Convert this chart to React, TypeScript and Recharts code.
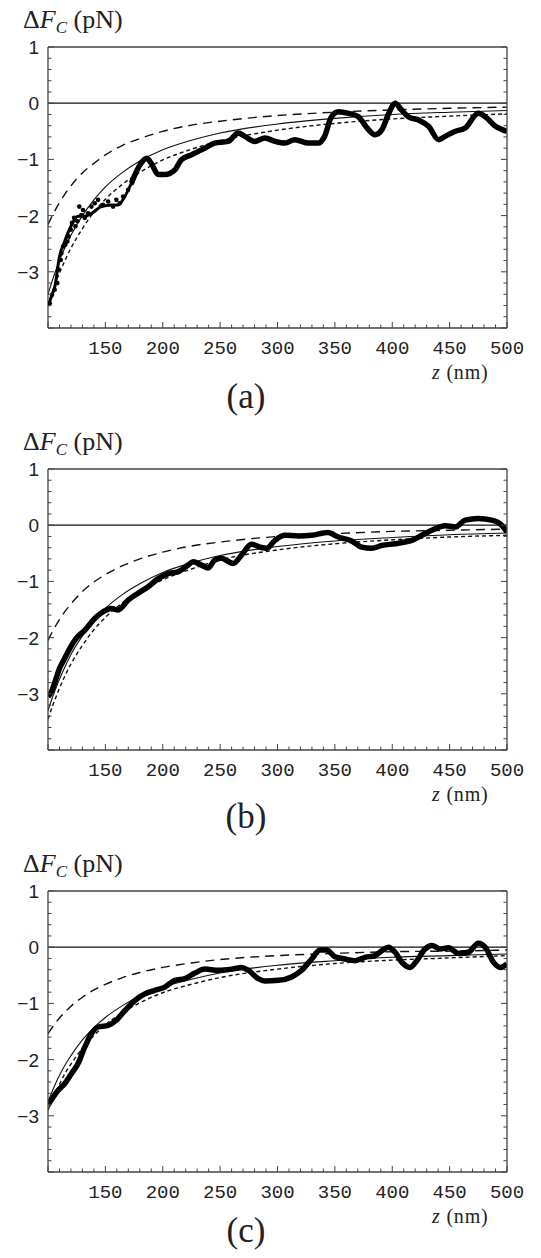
import React from "react";
import { ComposedChart, Line, Scatter, XAxis, YAxis, ReferenceLine } from "recharts";

// z (nm) sample points used for the three theory curves
const Z_THEORY = [100, 105, 110, 115, 120, 130, 140, 150, 165, 180, 200, 225, 250, 300, 350, 400, 450, 500];

// panel (a)
const A_SOLID = [-3.4, -3.08, -2.8, -2.56, -2.35, -2.0, -1.72, -1.49, -1.23, -1.03, -0.83, -0.66, -0.53, -0.37, -0.27, -0.2, -0.16, -0.13];
const A_SHORT = [-3.6, -3.29, -3.02, -2.79, -2.58, -2.23, -1.94, -1.71, -1.44, -1.23, -1.01, -0.82, -0.67, -0.48, -0.36, -0.28, -0.23, -0.19];
const A_LONG = [-2.16, -1.95, -1.77, -1.61, -1.47, -1.24, -1.07, -0.92, -0.75, -0.63, -0.5, -0.39, -0.32, -0.22, -0.16, -0.12, -0.09, -0.07];
const A_EARLY_Z = [100, 103, 106, 110, 114.5, 120, 126, 132, 138, 146.5, 155, 161, 167, 172.7];
const A_EARLY_V = [-3.61, -3.44, -3.26, -2.73, -2.46, -2.19, -2.01, -2.01, -1.96, -1.84, -1.81, -1.81, -1.66, -1.42];
const A_EXP_Z = [172.7, 181, 186, 190, 196, 202, 210.5, 216, 225, 236.7, 245, 257, 265.8, 271.6, 280, 289, 298, 306.5, 315, 327, 335.6, 341, 347, 353, 362, 370.5, 378, 385, 391, 397, 402.5, 408, 414, 423, 431.6, 440.5, 446, 455, 463.6, 475, 481, 490, 500];
const A_EXP_V = [-1.42, -1.07, -0.98, -1.07, -1.27, -1.27, -1.19, -1.01, -0.92, -0.8, -0.71, -0.68, -0.53, -0.59, -0.68, -0.62, -0.68, -0.71, -0.65, -0.71, -0.71, -0.59, -0.24, -0.15, -0.18, -0.24, -0.44, -0.56, -0.47, -0.18, 0.0, -0.12, -0.24, -0.3, -0.41, -0.65, -0.59, -0.5, -0.44, -0.18, -0.24, -0.41, -0.5];
const A_DOT_Z = [101.5, 103.5, 105.8, 108.1, 109.3, 111.1, 111.6, 113.1, 115.1, 116.9, 118, 119.8, 120.9, 122.7, 123.9, 125.6, 127.3, 129.1, 130.5, 132, 134.9, 137.8, 140.7, 143.6, 148, 152.4, 156.7, 159.6, 162.5, 165.4, 169.8, 173.3];
const A_DOT_V = [-3.56, -3.41, -3.32, -3.2, -2.96, -2.79, -2.67, -2.55, -2.52, -2.46, -2.37, -2.25, -2.13, -2.04, -2.19, -2.1, -1.84, -1.99, -1.9, -2.04, -1.96, -1.84, -1.78, -1.72, -1.81, -1.75, -1.84, -1.72, -1.78, -1.66, -1.54, -1.42];

// panel (b)
const B_SOLID = [-3.3, -3.0, -2.74, -2.51, -2.3, -1.97, -1.7, -1.48, -1.23, -1.04, -0.84, -0.67, -0.54, -0.38, -0.28, -0.22, -0.17, -0.14];
const B_SHORT = [-3.45, -3.16, -2.9, -2.67, -2.47, -2.14, -1.86, -1.64, -1.38, -1.18, -0.97, -0.78, -0.62, -0.44, -0.33, -0.26, -0.21, -0.18];
const B_LONG = [-2.05, -1.85, -1.68, -1.53, -1.4, -1.18, -1.01, -0.88, -0.72, -0.6, -0.48, -0.37, -0.3, -0.2, -0.15, -0.11, -0.09, -0.07];
const B_EXP_Z = [100, 103, 107, 110, 114.5, 119, 124.7, 132, 140.7, 148, 155, 161, 170, 178.5, 187, 196, 204.7, 213, 222, 226.5, 233.8, 239.6, 245.4, 251, 261.4, 268.7, 277.4, 284.7, 290.5, 297.8, 306.5, 318, 329.8, 344, 353, 364.7, 373.4, 382, 391, 402.5, 411, 417, 425.8, 434.5, 446, 455, 463.6, 475, 486.7, 495.4, 500];
const B_EXP_V = [-3.05, -2.96, -2.73, -2.55, -2.37, -2.19, -2.01, -1.87, -1.66, -1.54, -1.48, -1.51, -1.33, -1.21, -1.1, -0.95, -0.86, -0.83, -0.71, -0.65, -0.71, -0.76, -0.62, -0.59, -0.68, -0.53, -0.34, -0.39, -0.41, -0.27, -0.18, -0.19, -0.18, -0.13, -0.21, -0.28, -0.39, -0.41, -0.36, -0.33, -0.3, -0.27, -0.18, -0.09, -0.01, -0.03, 0.09, 0.12, 0.09, 0.0, -0.12];

// panel (c)
const C_SOLID = [-2.75, -2.5, -2.28, -2.09, -1.93, -1.65, -1.43, -1.25, -1.04, -0.87, -0.71, -0.57, -0.46, -0.32, -0.24, -0.18, -0.15, -0.12];
const C_SHORT = [-2.9, -2.65, -2.44, -2.24, -2.08, -1.8, -1.57, -1.38, -1.16, -0.99, -0.81, -0.66, -0.54, -0.39, -0.29, -0.23, -0.19, -0.15];
const C_LONG = [-1.54, -1.39, -1.26, -1.15, -1.05, -0.89, -0.76, -0.66, -0.54, -0.45, -0.36, -0.28, -0.22, -0.15, -0.11, -0.08, -0.07, -0.05];
const C_EXP_Z = [100, 104.4, 108.7, 114.5, 120.4, 126.2, 132, 137.8, 143.6, 152.4, 159.6, 166.9, 175.6, 184.4, 193, 201.8, 210.5, 219.3, 228, 236.7, 248.3, 260, 268.7, 274.5, 283.2, 289, 300.7, 312.3, 321, 329.8, 337, 342.9, 350, 358.9, 367.6, 376.3, 385, 391, 396.7, 402.5, 408.4, 415.6, 421.4, 428.7, 434.5, 441.8, 449, 457.7, 466.4, 475, 481, 488.3, 494, 500];
const C_EXP_V = [-2.81, -2.67, -2.55, -2.43, -2.25, -2.07, -1.78, -1.54, -1.42, -1.39, -1.3, -1.13, -0.95, -0.83, -0.77, -0.71, -0.59, -0.56, -0.46, -0.39, -0.41, -0.39, -0.36, -0.41, -0.56, -0.6, -0.59, -0.53, -0.41, -0.21, -0.05, -0.05, -0.17, -0.21, -0.24, -0.18, -0.15, -0.06, 0.0, -0.09, -0.27, -0.36, -0.24, -0.03, 0.03, -0.03, -0.01, -0.11, -0.09, 0.07, 0.0, -0.27, -0.36, -0.3];

// ticks (every minor tick; labels only on the majors)
const X_TICKS = [100, 110, 120, 130, 140, 150, 160, 170, 180, 190, 200, 210, 220, 230, 240, 250, 260, 270, 280, 290, 300, 310, 320, 330, 340, 350, 360, 370, 380, 390, 400, 410, 420, 430, 440, 450, 460, 470, 480, 490, 500];
const X_LABELS = [150, 200, 250, 300, 350, 400, 450, 500];
const Y_TICKS = [-4, -3.8, -3.6, -3.4, -3.2, -3, -2.8, -2.6, -2.4, -2.2, -2, -1.8, -1.6, -1.4, -1.2, -1, -0.8, -0.6, -0.4, -0.2, 0, 0.2, 0.4, 0.6, 0.8, 1];
const Y_LABELS = [-3, -2, -1, 0, 1];

const W = 541;
const H = 422;
const FRAME = "#444";
const INK = "#111";

const pts = (zs: number[], vs: number[]) => zs.map((z, i) => ({ z, v: vs[i] }));
const fmtY = (v: number) => (v < 0 ? `\u2212${-v}` : `${v}`);
const isMajorX = (v: number) => v % 50 === 0;
const isMajorY = (v: number) => Math.abs(v - Math.round(v)) < 1e-6;

function BottomTick(props: any) {
  const { x, y, payload } = props;
  const v = payload.value;
  const len = isMajorX(v) ? 6 : 3.5;
  return (
    <g>
      <line x1={x} x2={x} y1={y} y2={y - len} stroke={FRAME} strokeWidth={1} />
      {X_LABELS.includes(v) && (
        <text x={x} y={y + 26} textAnchor="middle" fontFamily="Liberation Mono" fontSize={19} fill="#222">
          {v}
        </text>
      )}
    </g>
  );
}

function TopTick(props: any) {
  const { x, y, payload } = props;
  const len = isMajorX(payload.value) ? 6 : 3.5;
  return <line x1={x} x2={x} y1={y} y2={y + len} stroke={FRAME} strokeWidth={1} />;
}

function LeftTick(props: any) {
  const { x, y, payload } = props;
  const v = payload.value;
  const len = isMajorY(v) ? 6 : 3.5;
  return (
    <g>
      <line x1={x} x2={x + len} y1={y} y2={y} stroke={FRAME} strokeWidth={1} />
      {Y_LABELS.includes(v) && (
        <text x={x - 9} y={y + 7} textAnchor="end" fontFamily="Liberation Sans" fontSize={19} fill="#222">
          {fmtY(v)}
        </text>
      )}
    </g>
  );
}

function RightTick(props: any) {
  const { x, y, payload } = props;
  const len = isMajorY(payload.value) ? 6 : 3.5;
  return <line x1={x} x2={x - len} y1={y} y2={y} stroke={FRAME} strokeWidth={1} />;
}

interface PanelProps {
  top: number;
  tag: string;
  tagY: number;
  solid: number[];
  short: number[];
  long: number[];
  expZ: number[];
  expV: number[];
  earlyZ?: number[];
  earlyV?: number[];
  dotZ?: number[];
  dotV?: number[];
}

function Panel({ top, tag, tagY, solid, short, long, expZ, expV, earlyZ, earlyV, dotZ, dotV }: PanelProps) {
  const axisLine = { stroke: FRAME, strokeWidth: 1.3 };
  return (
    <div style={{ position: "absolute", left: 0, top, width: W, height: H }}>
      <ComposedChart width={W} height={H} margin={{ top: 46, right: 33, bottom: 93, left: 47 }}>
        <XAxis xAxisId="x" type="number" dataKey="z" domain={[100, 500]} allowDataOverflow ticks={X_TICKS} interval={0} height={1} tickSize={0} tickMargin={0} tickLine={false} axisLine={axisLine} tick={<BottomTick />} />
        <XAxis xAxisId="xt" orientation="top" type="number" domain={[100, 500]} allowDataOverflow ticks={X_TICKS} interval={0} height={1} tickSize={0} tickMargin={0} tickLine={false} axisLine={axisLine} tick={<TopTick />} />
        <YAxis yAxisId="y" type="number" dataKey="v" domain={[-4, 1]} allowDataOverflow ticks={Y_TICKS} interval={0} width={1} tickSize={0} tickMargin={0} tickLine={false} axisLine={axisLine} tick={<LeftTick />} />
        <YAxis yAxisId="yr" orientation="right" type="number" domain={[-4, 1]} allowDataOverflow ticks={Y_TICKS} interval={0} width={1} tickSize={0} tickMargin={0} tickLine={false} axisLine={axisLine} tick={<RightTick />} />

        <ReferenceLine xAxisId="x" yAxisId="y" y={0} stroke={INK} strokeWidth={1.2} />

        <Line xAxisId="x" yAxisId="y" data={pts(Z_THEORY, long)} dataKey="v" type="monotone" stroke={INK} strokeWidth={1.4} strokeDasharray="9 6" dot={false} isAnimationActive={false} />
        <Line xAxisId="x" yAxisId="y" data={pts(Z_THEORY, short)} dataKey="v" type="monotone" stroke={INK} strokeWidth={1.4} strokeDasharray="4 3" dot={false} isAnimationActive={false} />
        <Line xAxisId="x" yAxisId="y" data={pts(Z_THEORY, solid)} dataKey="v" type="monotone" stroke={INK} strokeWidth={1.1} dot={false} isAnimationActive={false} />

        {earlyZ && earlyV && (
          <Line xAxisId="x" yAxisId="y" data={pts(earlyZ, earlyV)} dataKey="v" type="monotone" stroke="#000" strokeWidth={3} dot={false} isAnimationActive={false} />
        )}
        <Line xAxisId="x" yAxisId="y" data={pts(expZ, expV)} dataKey="v" type="monotone" stroke="#000" strokeWidth={5.5} strokeLinejoin="round" dot={false} isAnimationActive={false} />
        {dotZ && dotV && (
          <Scatter
            xAxisId="x"
            yAxisId="y"
            data={pts(dotZ, dotV)}
            dataKey="v"
            fill="#000"
            isAnimationActive={false}
            shape={(p: any) => <circle cx={p.cx} cy={p.cy} r={2.3} fill="#000" />}
          />
        )}
      </ComposedChart>
      <svg width={W} height={H} style={{ position: "absolute", left: 0, top: 0, pointerEvents: "none" }}>
        <text x={23} y={28} fontFamily="Liberation Serif" fontSize={26} fill="#222">
          {"\u0394"}
          <tspan fontStyle="italic">F</tspan>
          <tspan fontStyle="italic" fontSize={17} dy={5}>C</tspan>
          <tspan dy={-5}>{" (pN)"}</tspan>
        </text>
        <text x={432} y={379} fontFamily="Liberation Serif" fontSize={20} letterSpacing={0.8} fill="#222">
          <tspan fontStyle="italic">z</tspan>
          <tspan>{" (nm)"}</tspan>
        </text>
        <text x={246} y={tagY} textAnchor="middle" fontFamily="Liberation Serif" fontSize={35} fill="#222">
          {tag}
        </text>
      </svg>
    </div>
  );
}

export default function App() {
  return (
    <div style={{ position: "absolute", left: 0, top: 0, width: W, height: 1258, background: "#fff", overflow: "hidden" }}>
      <Panel top={0} tag="(a)" tagY={408} solid={A_SOLID} short={A_SHORT} long={A_LONG} expZ={A_EXP_Z} expV={A_EXP_V} earlyZ={A_EARLY_Z} earlyV={A_EARLY_V} dotZ={A_DOT_Z} dotV={A_DOT_V} />
      <Panel top={422} tag="(b)" tagY={406} solid={B_SOLID} short={B_SHORT} long={B_LONG} expZ={B_EXP_Z} expV={B_EXP_V} />
      <Panel top={844} tag="(c)" tagY={398} solid={C_SOLID} short={C_SHORT} long={C_LONG} expZ={C_EXP_Z} expV={C_EXP_V} />
    </div>
  );
}
